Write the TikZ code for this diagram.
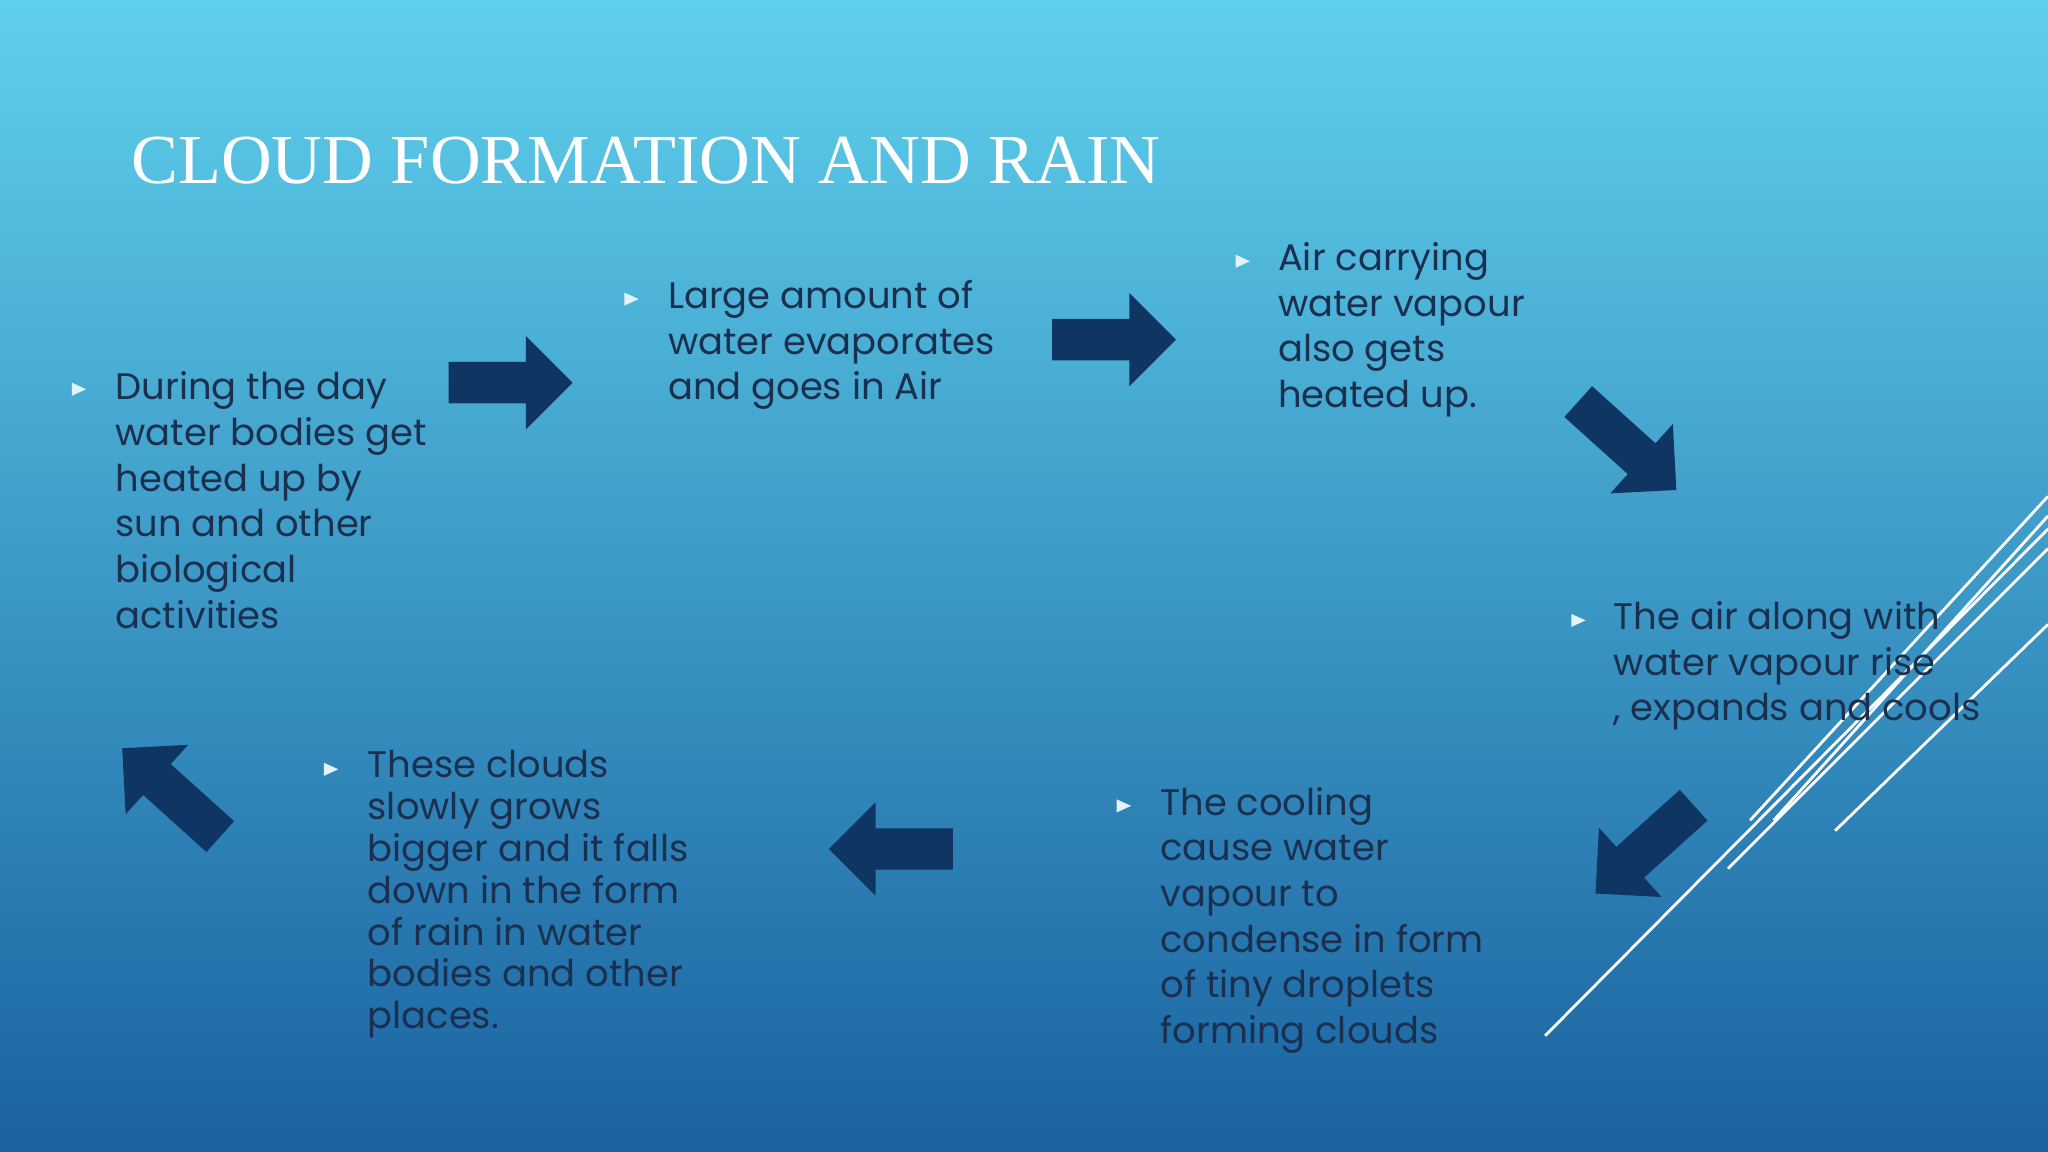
\documentclass[tikz,border=0pt]{standalone}
\usepackage{fontspec}
\setmainfont{Poppins}
\newfontfamily\titlefont{Liberation Serif}
\usetikzlibrary{shapes.arrows}
\definecolor{bgtop}{HTML}{5FD0EC}
\definecolor{bgbot}{HTML}{1A62A0}
\definecolor{txt}{HTML}{1B2F4F}
\definecolor{arr}{HTML}{0F3562}
\definecolor{bul}{HTML}{E4F3FA}
\tikzset{
  blk/.style={single arrow, fill=arr, draw=none, minimum height=1.24cm, minimum width=0.91cm, single arrow head extend=0.26cm, single arrow head indent=0cm, inner xsep=0pt, inner ysep=0.2cm},
  diag/.style={blk, minimum height=1.32cm},
  body/.style={anchor=north west, align=left, text=txt, inner sep=0pt, font=\fontsize{10.5}{13}\selectfont},
  bodyb/.style={body, font=\fontsize{10.5}{11.9}\selectfont},
  deco/.style={draw=white, line width=0.8pt}
}
\newcommand\bult[1]{\fill[bul] (#1)++(-5,-5) -- ++(0,10) -- ++(11,-5) -- cycle;}
\begin{document}
\begin{tikzpicture}[x=0.013061cm,y=-0.013061cm]
\shade[top color=bgtop, bottom color=bgbot] (0,0) rectangle (1568,882);
\useasboundingbox (0,0) rectangle (1568,882);
% decorative lines
\draw[deco] (1183,793) -- (1568,405);
\draw[deco] (1323,665) -- (1568,420);
\draw[deco] (1340,628) -- (1568,380);
\draw[deco] (1358,628) -- (1568,395);
\draw[deco] (1405,636) -- (1568,478);
% title
\node[anchor=west, text=white, inner sep=0pt, font=\titlefont\fontsize{20}{24}\selectfont] (title) at (100,123) {CLOUD FORMATION AND RAIN};
% arrows
\node[blk] (a1) at (383,293) {};
\node[blk] (a2) at (845,260) {};
\node[diag, rotate=-42] (a3) at (1240,336) {};
\node[diag, rotate=-138] (a4) at (1265,645) {};
\node[blk, rotate=180] (a5) at (690,650) {};
\node[diag, rotate=138] (a6) at (137,612) {};
% bullets
\bult{60,298}
\bult{483,229}
\bult{951,200}
\bult{1208,475}
\bult{860,617}
\bult{253,589}
% texts
\node[body] (t1) at (88,284) {During the day\\water bodies get\\heated up by\\sun and other\\biological\\activities};
\node[body] (t2) at (511,214) {Large amount of\\water evaporates\\and goes in Air};
\node[body] (t3) at (978,185) {Air carrying\\water vapour\\also gets\\heated up.};
\node[body] (t4) at (1235,460) {The air along with\\water vapour rise\\, expands and cools};
\node[body] (t5) at (888,602) {The cooling\\cause water\\vapour to\\condense in form\\of tiny droplets\\forming clouds};
\node[bodyb] (t6) at (281,574) {These clouds\\slowly grows\\bigger and it falls\\down in the form\\of rain in water\\bodies and other\\places.};
\end{tikzpicture}
\end{document}
